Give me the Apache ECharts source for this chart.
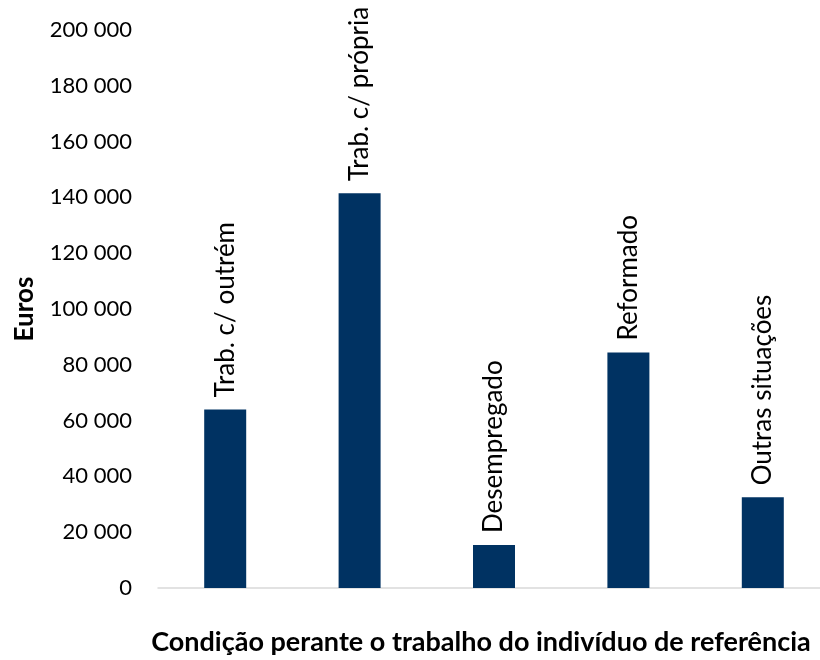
<!DOCTYPE html>
<html lang="pt">
<head>
    <meta charset="UTF-8">
    <title>Condição perante o trabalho</title>
    <script src="https://cdn.jsdelivr.net/npm/echarts@6/dist/echarts.min.js"></script>
    <style>
        html, body {margin: 0; padding: 0; background: #fff;}
    </style>
</head>
<body>
<div id="grafico" style="width: 820px;height: 660px;"></div>
<script>
    // categorias e valores (euros)
    let categorias = ['Trab. c/ outrém', 'Trab. c/ própria', 'Desempregado', 'Reformado', 'Outras situações']
    let valores = [64000, 141500, 15400, 84400, 32500]
    let ticksY = [0, 20000, 40000, 60000, 80000, 100000, 120000, 140000, 160000, 180000, 200000]

    let fonte = 'Lato'
    let myEcharts = echarts.init(document.getElementById('grafico'))

    var option = {
        animation: false,
        textStyle: {fontFamily: fonte},
        grid: {
            left: 158,
            top: 30,
            bottom: 72,
            width: 672,
            containLabel: false,
            outerBoundsMode: 'none'
        },
        xAxis: {
            type: 'category',
            data: categorias,
            name: 'Condição perante o trabalho do indivíduo de referência',
            nameLocation: 'middle',
            nameGap: 41,
            nameTextStyle: {
                fontFamily: fonte,
                fontWeight: 'bold',
                fontSize: 27,
                color: '#000',
                padding: [0, 26, 0, 0]
            },
            axisLine: {lineStyle: {color: '#d9d9d9', width: 1.5}},
            axisTick: {show: false},
            axisLabel: {show: false}
        },
        yAxis: {
            type: 'value',
            min: ticksY[0],
            max: ticksY[ticksY.length - 1],
            interval: 20000,
            name: 'Euros',
            nameLocation: 'middle',
            nameGap: 120,
            nameTextStyle: {
                fontFamily: fonte,
                fontWeight: 'bold',
                fontSize: 26,
                color: '#000'
            },
            splitLine: {show: false},
            axisLine: {show: false},
            axisTick: {show: false},
            axisLabel: {
                margin: 26,
                fontFamily: fonte,
                fontSize: 22,
                color: '#000',
                formatter: function (v) {
                    return String(v).replace(/\B(?=(\d{3})+(?!\d))/g, ' ')
                }
            }
        },
        series: [{
            type: 'bar',
            data: valores,
            barWidth: 42,
            itemStyle: {color: '#003262'},
            label: {
                show: true,
                position: 'top',
                rotate: 90,
                align: 'left',
                verticalAlign: 'middle',
                distance: 12,
                fontFamily: fonte,
                fontSize: 26,
                color: '#000',
                formatter: '{b}'
            }
        }]
    }
    myEcharts.setOption(option)
</script>
</body>
</html>
